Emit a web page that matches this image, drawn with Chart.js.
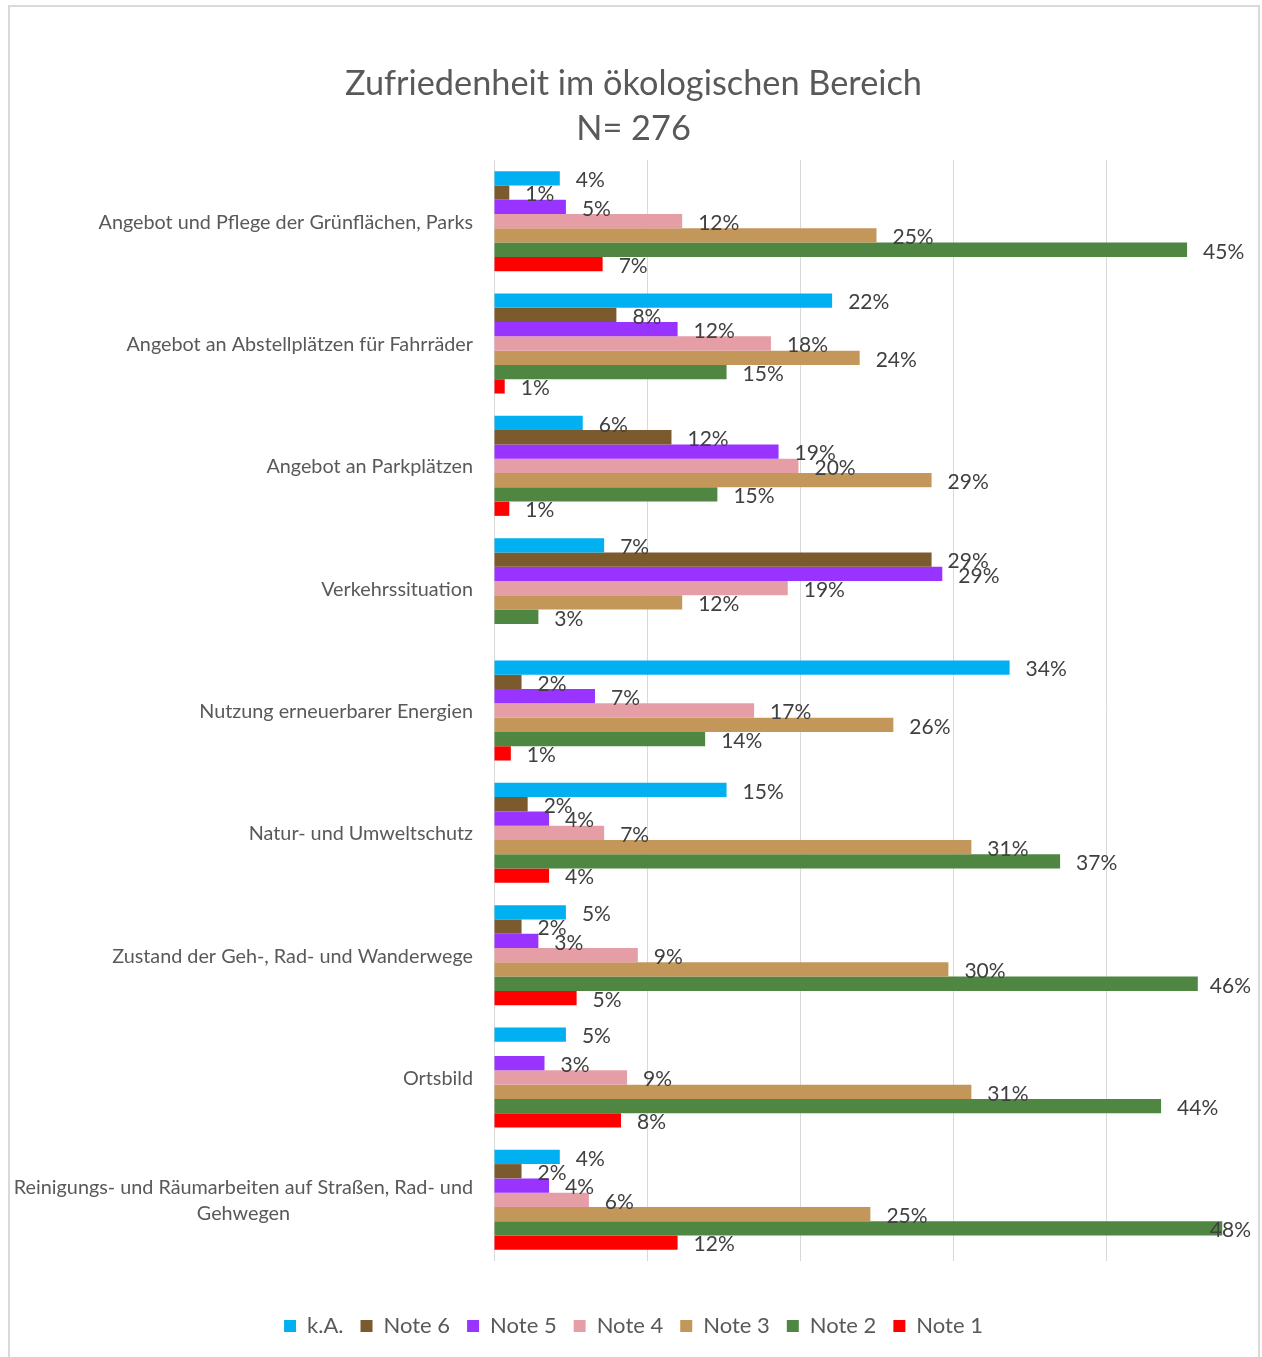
<!DOCTYPE html>
<html lang="de">
<head>
<meta charset="utf-8">
<title>Zufriedenheit im ökologischen Bereich</title>
<script src="https://cdn.jsdelivr.net/npm/chart.js@4/dist/chart.umd.min.js"></script>
<style>
  html, body { margin: 0; padding: 0; background: #fff; }
  #wrap { position: relative; width: 1262px; height: 1357px; overflow: hidden; }
  #frame { position: absolute; left: 8px; top: 5px; width: 1252px; height: 1400px; border: 2px solid #d9d9d9; box-sizing: border-box; }
  #chart { position: absolute; left: 0; top: 0; }
</style>
</head>
<body>
<div id="wrap">
  <div id="frame"></div>
  <canvas id="chart" width="1262" height="1357"></canvas>
</div>
<script>
// Kategorien (Fragen) und Anteile je Note in Prozent
const categories = [
  'Angebot und Pflege der Grünflächen, Parks',
  'Angebot an Abstellplätzen für Fahrräder',
  'Angebot an Parkplätzen',
  'Verkehrssituation',
  'Nutzung erneuerbarer Energien',
  'Natur- und Umweltschutz',
  'Zustand der Geh-, Rad- und Wanderwege',
  'Ortsbild',
  ['Reinigungs- und Räumarbeiten auf Straßen, Rad- und', 'Gehwegen']
];

const seriesNames = ['k.A.', 'Note 6', 'Note 5', 'Note 4', 'Note 3', 'Note 2', 'Note 1'];
const seriesColors = ['#00b0f0', '#7b5b2e', '#9933ff', '#e69ea6', '#c3965a', '#4f8642', '#ff0000'];

const keineAngabe = [4.3, 22.1, 5.8, 7.2, 33.7, 15.2, 4.7, 4.7, 4.3];
const note6 = [1.0, 8.0, 11.6, 28.6, 1.8, 2.2, 1.8, 0, 1.8];
const note5 = [4.7, 12.0, 18.6, 29.3, 6.6, 3.6, 2.9, 3.3, 3.6];
const note4 = [12.3, 18.1, 19.9, 19.2, 17.0, 7.2, 9.4, 8.7, 6.2];
const note3 = [25.0, 23.9, 28.6, 12.3, 26.1, 31.2, 29.7, 31.2, 24.6];
const note2 = [45.3, 15.2, 14.6, 2.9, 13.8, 37.0, 46.0, 43.6, 47.6];
const note1 = [7.1, 0.7, 1.0, 0, 1.1, 3.6, 5.4, 8.3, 12.0];

const xTicks = [0, 10, 20, 30, 40, 50];

const FONT = 'Lato, "Open Sans", sans-serif';

// Prozentwerte rechts neben jedem Balken
const barValueLabels = {
  id: 'barValueLabels',
  afterDatasetsDraw(chart) {
    const ctx = chart.ctx;
    ctx.save();
    ctx.font = '21px ' + FONT;
    ctx.fillStyle = '#404040';
    ctx.textBaseline = 'middle';
    ctx.textAlign = 'left';
    chart.data.datasets.forEach((ds, i) => {
      const meta = chart.getDatasetMeta(i);
      meta.data.forEach((bar, j) => {
        const v = ds.data[j];
        if (!v) return;
        const txt = Math.round(v) + '%';
        const w = ctx.measureText(txt).width;
        let x = bar.x + 16;
        if (x + w > 1251) x = 1251 - w;
        ctx.fillText(txt, x, bar.y + 2);
      });
    });
    ctx.restore();
  }
};

// Kategorienamen links, mehrzeilige Namen zentriert im rechtsbündigen Block
const categoryLabels = {
  id: 'categoryLabels',
  afterDraw(chart) {
    const ctx = chart.ctx;
    const yScale = chart.scales.y;
    const right = 473;
    const lineH = 26;
    ctx.save();
    ctx.font = '19.8px ' + FONT;
    ctx.fillStyle = '#595959';
    ctx.textBaseline = 'middle';
    ctx.textAlign = 'center';
    categories.forEach((label, i) => {
      const lines = Array.isArray(label) ? label : [label];
      const widest = Math.max(...lines.map(l => ctx.measureText(l).width));
      const cx = right - widest / 2;
      const cy = yScale.getPixelForValue(i) + 1;
      lines.forEach((line, k) => {
        ctx.fillText(line, cx, cy + (k - (lines.length - 1) / 2) * lineH);
      });
    });
    ctx.restore();
  }
};

const series = [keineAngabe, note6, note5, note4, note3, note2, note1];

new Chart(document.getElementById('chart'), {
  type: 'bar',
  data: {
    labels: categories,
    datasets: series.map((data, i) => ({
      label: seriesNames[i],
      data: data,
      backgroundColor: seriesColors[i],
      borderWidth: 0,
      categoryPercentage: 0.818,
      barPercentage: 1.0
    }))
  },
  options: {
    indexAxis: 'y',
    responsive: false,
    animation: false,
    layout: { padding: { left: 8, right: 3, top: 61, bottom: 10 } },
    plugins: {
      title: {
        display: true,
        text: ['Zufriedenheit im ökologischen Bereich', 'N= 276'],
        color: '#595959',
        font: { family: FONT, size: 34.3, weight: 'normal', lineHeight: 1.312 },
        padding: { top: 0, bottom: 9 }
      },
      legend: {
        display: true,
        position: 'bottom',
        labels: {
          color: '#595959',
          font: { family: FONT, size: 22 },
          boxWidth: 12,
          boxHeight: 12,
          padding: 17
        }
      },
      tooltip: { enabled: false }
    },
    scales: {
      x: {
        min: 0,
        max: 50,
        afterBuildTicks(scale) {
          scale.ticks = xTicks.map(v => ({ value: v }));
        },
        afterFit(scale) { scale.height = 37; },
        ticks: { display: false },
        grid: { color: '#d9d9d9', lineWidth: 1, drawTicks: false },
        border: { display: false }
      },
      y: {
        afterFit(scale) { scale.width = 486; },
        ticks: { display: false },
        grid: { display: false, drawTicks: false },
        border: { display: false }
      }
    }
  },
  plugins: [barValueLabels, categoryLabels]
});
</script>
</body>
</html>
